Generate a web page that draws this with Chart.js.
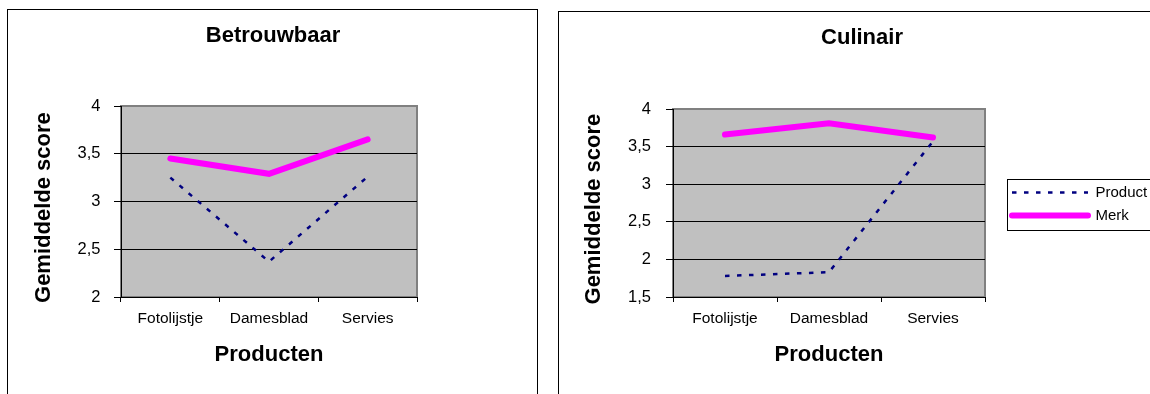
<!DOCTYPE html>
<html lang="nl">
<head>
<meta charset="utf-8">
<title>Gemiddelde score per product</title>
<script src="https://cdn.jsdelivr.net/npm/chart.js@4.4.1/dist/chart.umd.min.js"></script>
<style>
  html, body { margin: 0; padding: 0; background: #fff; }
  body { position: relative; width: 1150px; height: 394px; overflow: hidden; }
  .frame { position: absolute; box-sizing: border-box; border: 1px solid #000; background: #fff; }
  #frameBetrouwbaar { left: 7px; top: 9px; width: 531px; height: 420px; }
  #frameCulinair { left: 558px; top: 11px; width: 640px; height: 420px; }
  canvas { position: absolute; top: 0; }
  #chartBetrouwbaar { left: 0; }
  #chartCulinair { left: 558px; }
</style>
</head>
<body>
<div class="frame" id="frameBetrouwbaar"></div>
<div class="frame" id="frameCulinair"></div>
<canvas id="chartBetrouwbaar" width="546" height="394"></canvas>
<canvas id="chartCulinair" width="608" height="394"></canvas>
<script>
// Categories and series
const producten = ['Fotolijstje', 'Damesblad', 'Servies'];
const seriesNames = ['Product', 'Merk'];

// Betrouwbaar
const betrouwbaarProduct = [3.25, 2.37, 3.26];
const betrouwbaarMerk = [3.45, 3.29, 3.65];
const betrouwbaarTicks = [2, 2.5, 3, 3.5, 4];

// Culinair
const culinairProduct = [1.78, 1.83, 3.57];
const culinairMerk = [3.66, 3.81, 3.62];
const culinairTicks = [1.5, 2, 2.5, 3, 3.5, 4];

Chart.defaults.font.family = "'Liberation Sans', Arial, Helvetica, sans-serif";
Chart.defaults.color = '#000';

const scoreLabel = v => String(v).replace('.', ',');

// grey plot area with a darker grey frame
const plotFrame = {
  id: 'plotFrame',
  beforeDraw(chart, args, opts) {
    const { ctx, chartArea: a } = chart;
    ctx.save();
    ctx.fillStyle = opts.fill;
    ctx.fillRect(a.left, a.top, a.right - a.left, a.bottom - a.top);
    ctx.strokeStyle = opts.edge;
    ctx.lineWidth = 2;
    ctx.strokeRect(a.left, a.top, a.right - a.left, a.bottom - a.top);
    ctx.restore();
  }
};

// thin box around the legend entries
const legendFrame = {
  id: 'legendFrame',
  afterDraw(chart, args, opts) {
    const lg = chart.legend;
    if (!lg || !lg.options.display || !lg.legendHitBoxes || !lg.legendHitBoxes.length) return;
    const hb = lg.legendHitBoxes;
    const l = Math.min(...hb.map(b => b.left)) - opts.left;
    const t = Math.min(...hb.map(b => b.top)) - opts.top;
    const r = Math.max(...hb.map(b => b.left + b.width)) + opts.right;
    const btm = Math.max(...hb.map(b => b.top + b.height)) + opts.bottom;
    const { ctx } = chart;
    ctx.save();
    ctx.strokeStyle = '#000';
    ctx.lineWidth = 1;
    ctx.strokeRect(Math.round(l) + 0.5, Math.round(t) + 0.5, Math.round(r - l), Math.round(btm - t));
    ctx.restore();
  }
};

function scoreChart(id, s) {
  const top = s.ticks[s.ticks.length - 1];
  const scales = {
    x: {
      type: 'category',
      offset: true,
      grid: { display: true, drawOnChartArea: false, offset: true, color: '#000', tickColor: '#000', tickLength: 5 },
      border: { display: true, color: '#000', width: 1 },
      ticks: { font: { size: 15.5 }, color: '#000', padding: 7.2, maxRotation: 0, autoSkip: false },
      title: { display: true, text: 'Producten', font: { size: 22, weight: 'bold' }, color: '#000', padding: { top: 0, bottom: 26 } },
      afterFit: sc => { sc.height = s.xHeight; }
    },
    y: {
      type: 'linear',
      position: 'left',
      min: s.ticks[0],
      max: top,
      afterBuildTicks: sc => { sc.ticks = s.ticks.map(v => ({ value: v })); },
      grid: {
        color: c => (c.tick && c.tick.value === top) ? 'rgba(0,0,0,0)' : '#000',
        tickColor: '#000', tickLength: 7, lineWidth: 1
      },
      border: { display: true, color: '#000', width: 1 },
      ticks: { font: { size: 16.5 }, color: '#000', padding: s.tickPad, callback: v => scoreLabel(v) },
      title: { display: true, text: 'Gemiddelde score  ', font: { size: 22, weight: 'bold' }, color: '#000', padding: { top: s.yTitlePad, bottom: 0 } },
      afterFit: sc => { sc.width = s.yWidth; }
    },
    gap: {
      type: 'linear',
      position: 'right',
      display: true,
      grid: { display: false },
      border: { display: false },
      ticks: { display: false },
      afterFit: sc => { sc.width = s.gap; }
    }
  };

  return new Chart(document.getElementById(id), {
    type: 'line',
    data: {
      labels: producten,
      datasets: [
        {
          label: seriesNames[0], data: s.product, yAxisID: 'y',
          borderColor: '#000080', backgroundColor: '#000080',
          borderWidth: 2.5, borderDash: [4.5, 7.5], borderCapStyle: 'butt',
          pointRadius: 0, pointHoverRadius: 0, tension: 0
        },
        {
          label: seriesNames[1], data: s.merk, yAxisID: 'y',
          borderColor: '#FF00FF', backgroundColor: '#FF00FF',
          borderWidth: 6, borderCapStyle: 'round', borderJoinStyle: 'miter',
          pointRadius: 0, pointHoverRadius: 0, tension: 0
        }
      ]
    },
    options: {
      responsive: false,
      animation: false,
      devicePixelRatio: 1,
      events: [],
      layout: { padding: { left: s.pad, right: s.pad, top: 0, bottom: 0 } },
      plugins: {
        title: {
          display: true, text: s.title, color: '#000',
          font: { size: 22, weight: 'bold' },
          padding: { top: s.titleTop, bottom: s.titleBottom }
        },
        legend: {
          display: s.legend,
          position: 'right',
          maxWidth: 300,
          // empty title line: keeps the entries a little lower in the legend column
          title: { display: true, text: '', font: { size: 10 }, padding: 1 },
          labels: {
            usePointStyle: true,
            pointStyleWidth: 76,
            padding: 8,
            font: { size: 15 },
            color: '#000',
            generateLabels: chart => chart.data.datasets.map((ds, i) => ({
              text: ds.label,
              fillStyle: ds.borderColor,
              strokeStyle: ds.borderColor,
              lineWidth: ds.borderWidth,
              lineDash: ds.borderDash || [],
              lineCap: ds.borderCapStyle,
              lineJoin: 'miter',
              pointStyle: 'line',
              fontColor: '#000',
              hidden: false,
              datasetIndex: i
            }))
          }
        },
        tooltip: { enabled: false },
        plotFrame: { fill: '#C0C0C0', edge: '#808080' },
        legendFrame: { left: 5, top: 6, right: 8, bottom: 7 }
      },
      scales
    },
    plugins: [plotFrame, legendFrame]
  });
}

scoreChart('chartBetrouwbaar', {
  title: 'Betrouwbaar',
  product: betrouwbaarProduct, merk: betrouwbaarMerk, ticks: betrouwbaarTicks,
  legend: false, pad: 20, yWidth: 101, gap: 109, xHeight: 97,
  tickPad: 13.5, yTitlePad: 10.8, titleTop: 23, titleBottom: 56.6
});

scoreChart('chartCulinair', {
  title: 'Culinair',
  product: culinairProduct, merk: culinairMerk, ticks: culinairTicks,
  legend: true, pad: 8.8, yWidth: 106.2, gap: 19, xHeight: 97,
  tickPad: 15, yTitlePad: 14, titleTop: 24.3, titleBottom: 58.3
});
</script>
</body>
</html>
